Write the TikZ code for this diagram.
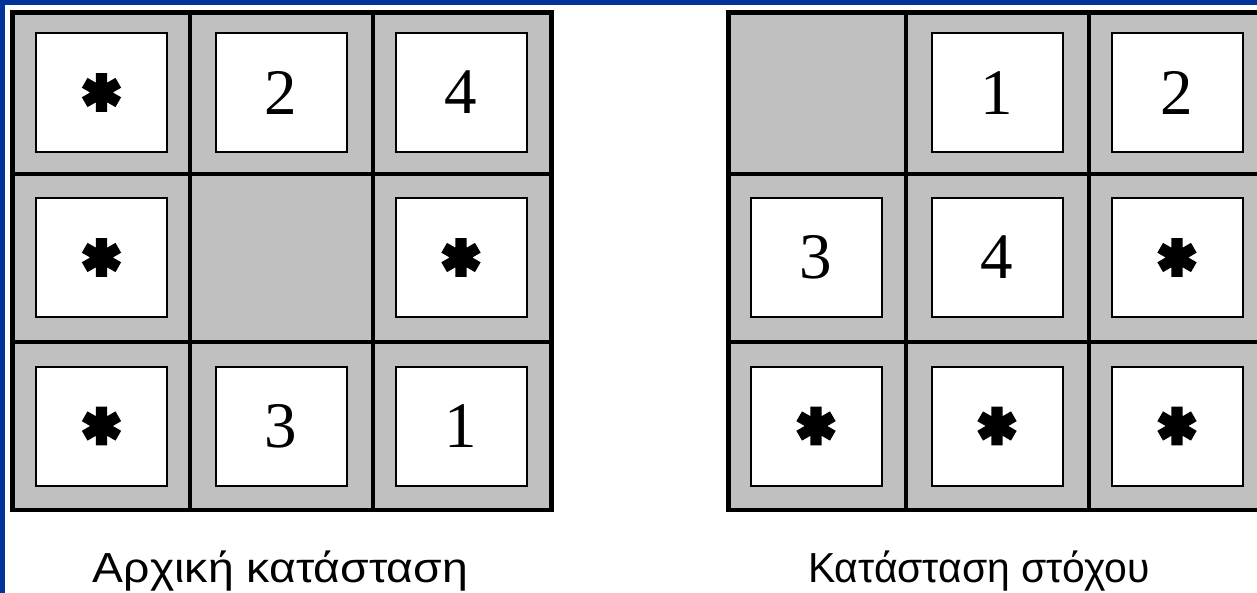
\documentclass[tikz,border=0pt]{standalone}
\usepackage{fontspec}
\setmainfont{Liberation Serif}
\newfontfamily\lsans{Liberation Sans}
\newfontfamily\djvbold[FakeBold=8]{DejaVu Sans}
\definecolor{frameblue}{RGB}{0,51,153}
\definecolor{boardgray}{RGB}{192,192,192}
\tikzset{
  tile/.style={draw=black, line width=2pt, fill=white, minimum width=131pt,
    minimum height=119pt, inner sep=0pt, font=\fontsize{65}{65}\selectfont},
  boardline/.style={line width=4pt, line cap=rect},
  boardframe/.style={line width=4.5pt, fill=boardgray},
  caption/.style={anchor=base, inner sep=0pt}
}
\newcommand{\heavystar}{{\djvbold\fontsize{48}{48}\selectfont ✱}}
\begin{document}
\begin{tikzpicture}[x=1pt,y=-1pt]
\useasboundingbox (0,0) rectangle (1257,593);
\fill[white] (0,0) rectangle (1257,593);
\fill[frameblue] (0,0) rectangle (1257,5);
\fill[frameblue] (0,0) rectangle (5,593);
\begin{scope}
\clip (5,5) rectangle (1257,593);
% left board
\draw[boardframe] (12.5,12.5) rectangle (551.5,510);
\draw[boardline] (190,12.5) -- (190,510);
\draw[boardline] (373,12.5) -- (373,510);
\draw[boardline] (12.5,174) -- (551.5,174);
\draw[boardline] (12.5,342) -- (551.5,342);
% right board
\draw[boardframe] (728.5,12.5) rectangle (1267,510);
\draw[boardline] (906,12.5) -- (906,510);
\draw[boardline] (1089,12.5) -- (1089,510);
\draw[boardline] (728.5,174) -- (1267,174);
\draw[boardline] (728.5,342) -- (1267,342);
% left tiles
\node[tile] (a11) at (101.5,92.5) {\heavystar};
\node[tile] (a12) at (281,92.5) {2};
\node[tile] (a13) at (461,92.5) {4};
\node[tile] (a21) at (101.5,257.5) {\heavystar};
\node[tile] (a23) at (461,257.5) {\heavystar};
\node[tile] (a31) at (101.5,426) {\heavystar};
\node[tile] (a32) at (281,426) {3};
\node[tile] (a33) at (461,426) {1};
% right tiles
\node[tile] (b12) at (997,93) {1};
\node[tile] (b13) at (1177,93) {2};
\node[tile] (b21) at (816,257.5) {3};
\node[tile] (b22) at (997,257.5) {4};
\node[tile] (b23) at (1177,257.5) {\heavystar};
\node[tile] (b31) at (816,426) {\heavystar};
\node[tile] (b32) at (997,426) {\heavystar};
\node[tile] (b33) at (1177,426) {\heavystar};
\end{scope}
% captions
\node[caption] (capA) at (280.5,582) {\resizebox{375pt}{\height}{\lsans\fontsize{42}{42}\selectfont Αρχική κατάσταση}};
\node[caption] (capB) at (979,582) {\resizebox{342pt}{\height}{\lsans\fontsize{42}{42}\selectfont Κατάσταση στόχου}};
\end{tikzpicture}
\end{document}
